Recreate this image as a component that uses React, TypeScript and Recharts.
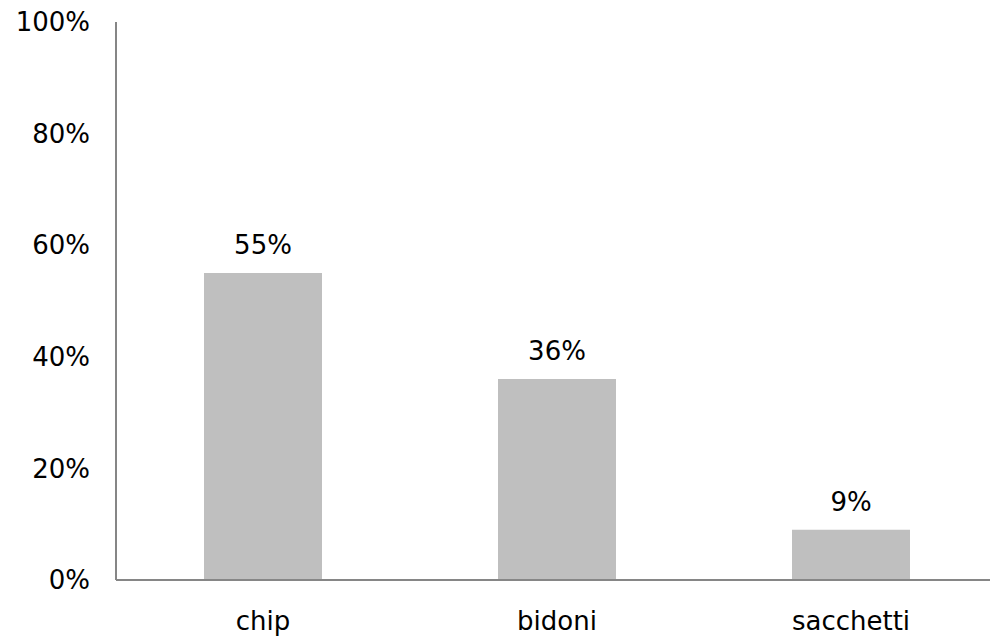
import React from "react";
import { BarChart, Bar, XAxis, YAxis, LabelList } from "recharts";

const categories = ["chip", "bidoni", "sacchetti"];
const values = [55, 36, 9];
const yTicks = [0, 20, 40, 60, 80, 100];

const data = categories.map((c, i) => ({ name: c, value: values[i] }));

const font = "'DejaVu Sans', Verdana, sans-serif";

export default function App() {
  return (
    <div
      style={{
        position: "fixed",
        left: 0,
        top: 0,
        width: 990,
        height: 638,
        overflow: "hidden",
        background: "#fff",
      }}
    >
      <BarChart
        width={1000}
        height={638}
        data={data}
        margin={{ top: 22, right: 2, bottom: 0, left: 0 }}
      >
        <YAxis
          domain={[0, 100]}
          ticks={yTicks}
          width={116}
          axisLine={{ stroke: "#868686", strokeWidth: 2 }}
          tickLine={false}
          tickFormatter={(v: number) => `${v}%`}
          tick={{ fill: "#000", fontSize: 26, fontFamily: font, dx: -18 }}
          interval={0}
        />
        <XAxis
          dataKey="name"
          height={58}
          axisLine={{ stroke: "#868686", strokeWidth: 2 }}
          tickLine={false}
          tick={{ fill: "#000", fontSize: 26, fontFamily: font, dy: 24 }}
        />
        <Bar dataKey="value" fill="#BFBFBF" barSize={118} isAnimationActive={false}>
          <LabelList
            dataKey="value"
            position="top"
            offset={19}
            formatter={(v: number) => `${v}%`}
            style={{ fill: "#000", fontSize: 26, fontFamily: font }}
          />
        </Bar>
      </BarChart>
    </div>
  );
}
